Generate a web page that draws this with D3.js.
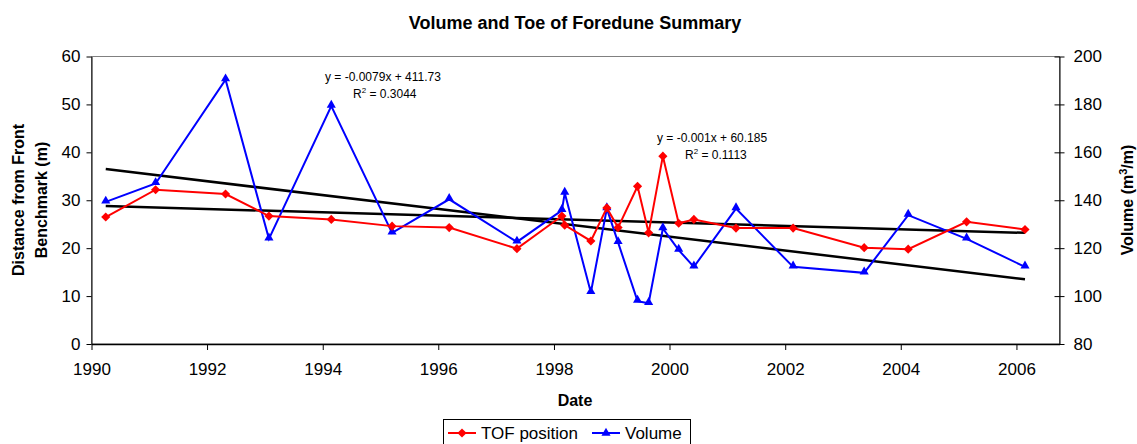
<!DOCTYPE html>
<html>
<head>
<meta charset="utf-8">
<script src="https://cdn.jsdelivr.net/npm/d3@7"></script>
<style>
    body { margin: 0; background: #fff; }
    svg { font-family: 'Liberation Sans', Arial, sans-serif; }
</style>
</head>
<body>
<svg id="grafico"></svg>
<script>
const datas = ['1990-04-01', '1991-02-10', '1992-04-27', '1993-01-26', '1994-02-24', '1995-03-15',
    '1996-03-10', '1997-05-12', '1998-02-20', '1998-03-10', '1998-08-22', '1998-12-01',
    '1999-02-10', '1999-06-13', '1999-08-22', '1999-11-20', '2000-02-28', '2000-06-03',
    '2001-02-24', '2002-02-20', '2003-05-15', '2004-02-17', '2005-02-20', '2006-02-24'];
const posicaoTOF = [26.5, 32.2, 31.3, 26.7, 26.0, 24.6, 24.3, 19.9, 26.7, 24.8, 21.5, 28.4,
    24.3, 32.9, 23.2, 39.2, 25.2, 26.0, 24.2, 24.2, 20.1, 19.8, 25.5, 23.9];
const volume = [139.3, 147.0, 190.3, 123.9, 179.3, 126.4, 140.4, 122.6, 135.8, 143.0, 101.5, 136.5,
    122.4, 97.9, 97.0, 128.2, 119.2, 112.2, 136.5, 112.2, 109.7, 133.8, 123.9, 112.2];
// trend lines, value at the first and at the last date
const tendenciaTOF = [28.8, 23.2];
const tendenciaVolume = [153, 107];
const ticksEsquerda = [0, 10, 20, 30, 40, 50, 60];
const ticksDireita = [80, 100, 120, 140, 160, 180, 200];
const eqTOF = ['y = -0.001x + 60.185', '0.1113'];
const eqVolume = ['y = -0.0079x + 411.73', '0.3044'];
const series = ['TOF position', 'Volume'];

let largura = 1137, altura = 444;
let margem = { esquerda: 91.5, direita: 77.5, superior: 56.5, inferior: 100 };

let svg = d3.select('#grafico')
    .attr('width', largura)
    .attr('height', altura);

let parse = d3.timeParse('%Y-%m-%d');
let pontos = datas.map((d, i) => ({ data: parse(d), tof: posicaoTOF[i], vol: volume[i] }));

let fnX = d3.scaleTime()
    .domain([new Date(1990, 0, 1), new Date(2006, 8, 30)])
    .range([margem.esquerda, largura - margem.direita]);

let fnY = d3.scaleLinear()
    .domain([0, 60])
    .range([altura - margem.inferior, margem.superior]);

let fnY2 = d3.scaleLinear()
    .domain([80, 200])
    .range([altura - margem.inferior, margem.superior]);

svg.append('rect')
    .attr('x', margem.esquerda)
    .attr('y', margem.superior)
    .attr('width', largura - margem.direita - margem.esquerda)
    .attr('height', altura - margem.inferior - margem.superior)
    .attr('fill', 'none')
    .attr('stroke', '#808080');

let eixoX = d3.axisBottom(fnX)
    .ticks(d3.timeYear.every(2))
    .tickFormat(d3.timeFormat('%Y'))
    .tickSizeInner(6)
    .tickSizeOuter(0)
    .tickPadding(13);
svg.append('g')
    .attr('transform', 'translate(0,' + (altura - margem.inferior) + ')')
    .call(eixoX)
    .call(g => g.select('.domain').attr('stroke-width', 1.5));

let eixoY = d3.axisLeft(fnY)
    .tickValues(ticksEsquerda)
    .tickSizeInner(5)
    .tickSizeOuter(0)
    .tickPadding(6);
svg.append('g')
    .attr('transform', 'translate(' + margem.esquerda + ',0)')
    .call(eixoY);

let eixoY2 = d3.axisRight(fnY2)
    .tickValues(ticksDireita)
    .tickSizeInner(5)
    .tickSizeOuter(0)
    .tickPadding(9);
svg.append('g')
    .attr('transform', 'translate(' + (largura - margem.direita) + ',0)')
    .call(eixoY2)
    .call(g => g.selectAll('.tick line').attr('x1', -5));

svg.selectAll('.tick text')
    .attr('font-size', 17)
    .attr('font-family', 'Liberation Sans, Arial, sans-serif')
    .attr('fill', '#000');

// trend lines
let primeira = pontos[0].data, ultima = pontos[pontos.length - 1].data;
svg.append('line')
    .attr('x1', fnX(primeira)).attr('x2', fnX(ultima))
    .attr('y1', fnY2(tendenciaVolume[0])).attr('y2', fnY2(tendenciaVolume[1]))
    .attr('stroke', '#000').attr('stroke-width', 2.5);
svg.append('line')
    .attr('x1', fnX(primeira)).attr('x2', fnX(ultima))
    .attr('y1', fnY(tendenciaTOF[0])).attr('y2', fnY(tendenciaTOF[1]))
    .attr('stroke', '#000').attr('stroke-width', 2.5);

let diamante = d3.symbol().type(d3.symbolSquare).size(42);
let triangulo = d3.symbol().type(d3.symbolTriangle).size(36);

svg.append('path')
    .datum(pontos)
    .attr('fill', 'none')
    .attr('stroke', '#0000ff')
    .attr('stroke-width', 2)
    .attr('d', d3.line().x(d => fnX(d.data)).y(d => fnY2(d.vol)));

svg.append('path')
    .datum(pontos)
    .attr('fill', 'none')
    .attr('stroke', '#ff0000')
    .attr('stroke-width', 2)
    .attr('d', d3.line().x(d => fnX(d.data)).y(d => fnY(d.tof)));

svg.selectAll('.marcaVol')
    .data(pontos)
    .enter()
    .append('path')
    .classed('marcaVol', true)
    .attr('d', triangulo)
    .attr('fill', '#0000ff')
    .attr('transform', d => 'translate(' + fnX(d.data) + ',' + (fnY2(d.vol) - 1) + ')');

svg.selectAll('.marcaTOF')
    .data(pontos)
    .enter()
    .append('path')
    .classed('marcaTOF', true)
    .attr('d', diamante)
    .attr('fill', '#ff0000')
    .attr('transform', d => 'translate(' + fnX(d.data) + ',' + fnY(d.tof) + ') rotate(45)');

// equations
function equacao(x, y, eq) {
    let t = svg.append('text').attr('font-size', 12).attr('fill', '#000');
    t.append('tspan').attr('x', x).attr('y', y).text(eq[0]);
    let t2 = svg.append('text').attr('font-size', 12).attr('fill', '#000')
        .attr('x', x + 28).attr('y', y + 17);
    t2.append('tspan').text('R');
    t2.append('tspan').attr('dy', -5).attr('font-size', 8).text('2');
    t2.append('tspan').attr('dy', 5).text(' = ' + eq[1]);
}
equacao(325, 81, eqVolume);
equacao(657, 142, eqTOF);

svg.append('text')
    .attr('x', 575)
    .attr('y', 29)
    .attr('text-anchor', 'middle')
    .attr('font-size', 18)
    .attr('font-weight', 'bold')
    .text('Volume and Toe of Foredune Summary');

svg.append('text')
    .attr('x', 575)
    .attr('y', 406)
    .attr('text-anchor', 'middle')
    .attr('font-size', 16)
    .attr('font-weight', 'bold')
    .text('Date');

let tituloY = svg.append('text')
    .attr('transform', 'translate(24,200) rotate(-90)')
    .attr('text-anchor', 'middle')
    .attr('font-size', 16)
    .attr('font-weight', 'bold');
tituloY.append('tspan').attr('x', 0).attr('y', 0).text('Distance from Front');
tituloY.append('tspan').attr('x', 0).attr('y', 23).text('Benchmark (m)');

let tituloY2 = svg.append('text')
    .attr('transform', 'translate(1133,200) rotate(-90)')
    .attr('text-anchor', 'middle')
    .attr('font-size', 16)
    .attr('font-weight', 'bold');
tituloY2.append('tspan').text('Volume (m');
tituloY2.append('tspan').attr('dy', -6).attr('font-size', 11).text('3');
tituloY2.append('tspan').attr('dy', 6).text('/m)');

// legend
let legenda = svg.append('g');
legenda.append('rect')
    .attr('x', 443.5).attr('y', 419.5)
    .attr('width', 247).attr('height', 30)
    .attr('fill', '#fff').attr('stroke', '#000');
let itens = [
    { nome: series[0], cor: '#ff0000', simbolo: diamante, rot: 45, x: 448 },
    { nome: series[1], cor: '#0000ff', simbolo: triangulo, rot: 0, x: 592 }
];
itens.forEach(it => {
    legenda.append('line')
        .attr('x1', it.x).attr('x2', it.x + 28)
        .attr('y1', 433).attr('y2', 433)
        .attr('stroke', it.cor).attr('stroke-width', 2);
    legenda.append('path')
        .attr('d', it.simbolo)
        .attr('fill', it.cor)
        .attr('transform', 'translate(' + (it.x + 14) + ',433) rotate(' + it.rot + ')');
    legenda.append('text')
        .attr('x', it.x + 33)
        .attr('y', 439)
        .attr('font-size', 17)
        .text(it.nome);
});
</script>
</body>
</html>
